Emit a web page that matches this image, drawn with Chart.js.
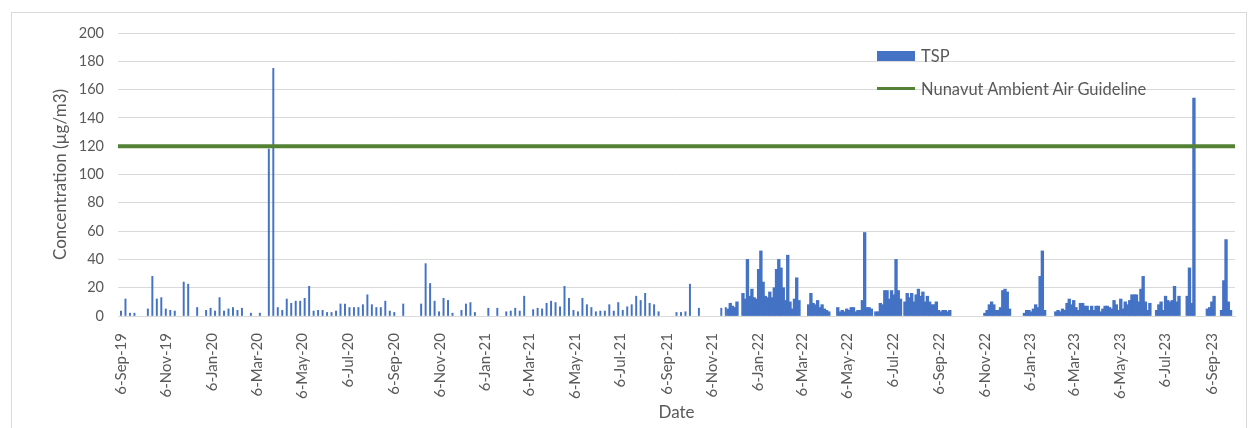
<!DOCTYPE html>
<html>
<head>
<meta charset="utf-8">
<title>TSP concentration</title>
<script src="https://cdn.jsdelivr.net/npm/chart.js@4.4.0/dist/chart.umd.min.js"></script>
<style>
  html, body { margin: 0; padding: 0; background: #fff; }
  body { width: 1248px; height: 428px; overflow: hidden; position: relative; font-family: Lato, sans-serif; }
  .frame { position: absolute; left: 11px; top: 12px; width: 1236px; height: 440px; border: 1px solid #d9d9d9; box-sizing: border-box; }
  #chart-wrap { position: absolute; left: 0; top: 0; width: 1248px; height: 428px; }
  #legend { position: absolute; left: 877px; top: 44px; color: #595959; font-size: 16.5px; }
  .legend-item { display: flex; align-items: center; height: 23px; margin-bottom: 10px; }
  .legend-swatch { width: 38px; margin-right: 6px; }
</style>
</head>
<body>
<div class="frame"></div>
<div id="chart-wrap"><canvas id="tspChart"></canvas></div>
<div id="legend"></div>
<script>
// x values are days since the first sample, 6-Sep-19
const tickLabels = ['6-Sep-19', '6-Nov-19', '6-Jan-20', '6-Mar-20', '6-May-20', '6-Jul-20', '6-Sep-20',
    '6-Nov-20', '6-Jan-21', '6-Mar-21', '6-May-21', '6-Jul-21', '6-Sep-21', '6-Nov-21', '6-Jan-22',
    '6-Mar-22', '6-May-22', '6-Jul-22', '6-Sep-22', '6-Nov-22', '6-Jan-23', '6-Mar-23', '6-May-23',
    '6-Jul-23', '6-Sep-23'];
const tickDays = [0, 61, 122, 182, 243, 304, 366, 427, 488, 547, 608, 669, 731, 792, 853, 912, 973,
    1034, 1096, 1157, 1218, 1277, 1338, 1399, 1461];

// 1-in-6 day samples (Sep 2019 - Nov 2021)
const sampleDays = [0, 6, 12, 18, 36, 42, 48, 54, 60, 66, 72, 84, 90, 102, 114, 120, 126, 132, 138, 144,
    150, 156, 162, 174, 186, 198, 204, 210, 216, 222, 228, 234, 240, 246, 252, 258, 264, 270, 276, 282,
    288, 294, 300, 306, 312, 318, 324, 330, 336, 342, 348, 354, 360, 366, 378, 402, 408, 414, 420, 426,
    432, 438, 444, 456, 462, 468, 474, 492, 504, 516, 522, 528, 534, 540, 552, 558, 564, 570, 576, 582,
    588, 594, 600, 606, 612, 618, 624, 630, 636, 642, 648, 654, 660, 666, 672, 678, 684, 690, 696, 702,
    708, 714, 720, 744, 750, 756, 762, 774, 804, 810];
const sampleTsp = [3.5, 12, 2, 2, 5, 28, 12, 13, 5, 4, 3.5, 24, 22.5, 6, 4, 5.5, 3.5, 13, 3.5, 5,
    6, 4, 5.5, 2, 2, 118, 175, 6, 4, 12, 9, 10.5, 10.5, 12.5, 21, 3.5, 4, 4, 2.5, 2.5,
    3.5, 8.5, 8.5, 6, 6, 6, 8, 15, 8, 6, 6, 10.5, 3.5, 2.5, 8.5, 8.5, 37, 23, 10.5, 3,
    12.5, 11, 2, 4, 8.5, 9.5, 2.5, 5.5, 5.5, 3, 3.5, 5.5, 3.5, 14, 4.5, 5.5, 5, 9, 10.5, 9.5,
    6.5, 21, 12.5, 4, 3, 12.5, 8, 6, 3, 3.5, 3.5, 8, 3.5, 9.5, 4, 6.5, 8, 14, 11, 16,
    9, 8, 3, 2.5, 2.5, 3, 22.5, 5.5, 5.5, 6];

// continuous monitoring from late Nov 2021 (read every ~3 days)
const monitorDays = [
    813, 816, 819, 822, 825,
    833, 836, 839, 842, 845, 848, 851, 854, 857, 860, 863, 866, 869, 872, 875, 878, 881, 884, 887, 890,
    893, 896, 899, 902, 905, 908,
    921, 924, 927, 930, 933, 936, 939, 942, 945, 948,
    960, 963, 966, 969, 972, 975, 978, 981, 984, 987, 990, 993, 996, 999, 1002, 1005, 1011, 1014, 1017,
    1020, 1023, 1026, 1029, 1032, 1035, 1038, 1041, 1044,
    1050, 1053, 1056, 1059, 1062, 1065, 1068, 1071, 1074, 1077, 1080, 1083, 1086, 1089, 1092, 1095, 1098,
    1101, 1104, 1107, 1110,
    1157, 1160, 1163, 1166, 1169, 1172, 1175, 1178, 1181, 1184, 1187, 1190,
    1210, 1213, 1216, 1219, 1222, 1225, 1228, 1231, 1234, 1237,
    1252, 1255, 1258, 1261, 1264, 1267, 1270, 1273, 1276, 1279, 1282, 1285, 1288, 1291, 1294, 1297, 1300,
    1303, 1306, 1309, 1312, 1315, 1318, 1321, 1324, 1327, 1330, 1333, 1336, 1339, 1342, 1345, 1348, 1351,
    1354, 1357, 1360, 1363, 1366, 1369, 1372, 1375, 1378,
    1387, 1390, 1393, 1396, 1399, 1402, 1405, 1408, 1411, 1414, 1417,
    1428, 1431, 1434, 1437,
    1455, 1458, 1461, 1464,
    1474, 1477, 1480, 1483, 1486];
const monitorTsp = [
    5, 9, 7, 6, 10,
    16, 12, 40, 14, 19, 13, 12, 33, 46, 24, 14, 13, 17, 13, 20, 33, 40, 34, 20, 11,
    43, 10, 5, 12, 27, 11,
    8, 16, 9, 8, 11, 6, 8, 5, 4, 3,
    6, 3, 4, 3, 5, 4, 6, 6, 3, 4, 4, 11, 59, 6, 6, 5, 3, 3, 9,
    8, 18, 18, 12, 18, 15, 40, 18, 12,
    10, 16, 13, 16, 10, 15, 19, 14, 17, 10, 14, 10, 8, 8, 10, 4, 3,
    4, 4, 3, 4,
    2, 4, 8, 10, 8, 4, 4, 6, 18, 19, 17, 5,
    2, 4, 4, 3, 5, 8, 6, 28, 46, 4,
    3, 4, 3, 5, 4, 9, 12, 8, 11, 6, 4, 9, 9, 7, 7, 4, 7,
    4, 7, 7, 3, 5, 7, 7, 6, 5, 11, 8, 4, 12, 5, 10, 8, 11,
    15, 15, 15, 10, 19, 28, 10, 4, 9,
    4, 8, 10, 4, 14, 11, 10, 11, 21, 10, 14,
    14, 34, 9, 154,
    5, 6, 10, 14,
    4, 25, 54, 10, 4];

const guidelineValue = 120;
const axisStartDay = -4;
const axisEndDay = 1492;

const blue = '#4472c4';
const green = '#548235';
const textGrey = '#595959';

function toPoints(days, values) {
    return days.map((d, i) => ({ x: d, y: values[i] }));
}

function initChart() {
    Chart.defaults.font.family = 'Lato, sans-serif';
    Chart.defaults.color = textGrey;

    const ctx = document.getElementById('tspChart').getContext('2d');
    const chart = new Chart(ctx, {
        type: 'bar',
        data: {
            datasets: [
                {
                    type: 'line',
                    label: 'Nunavut Ambient Air Guideline',
                    data: [{ x: axisStartDay, y: guidelineValue }, { x: axisEndDay, y: guidelineValue }],
                    borderColor: green,
                    backgroundColor: green,
                    borderWidth: 4,
                    pointRadius: 0,
                    order: 0,
                    legendIndex: 1
                },
                {
                    label: 'TSP',
                    data: toPoints(sampleDays, sampleTsp),
                    backgroundColor: blue,
                    barThickness: 1.3,
                    stack: 'tsp',
                    order: 1,
                    legendIndex: 0
                },
                {
                    label: 'TSP',
                    data: toPoints(monitorDays, monitorTsp),
                    backgroundColor: blue,
                    barThickness: 2.7,
                    stack: 'tsp',
                    order: 1
                }
            ]
        },
        options: {
            responsive: true,
            maintainAspectRatio: false,
            animation: false,
            layout: { padding: { top: 33, right: 13, left: 0, bottom: 0 } },
            plugins: {
                legend: { display: false },
                tooltip: { enabled: false }
            },
            scales: {
                x: {
                    type: 'linear',
                    min: axisStartDay,
                    max: axisEndDay,
                    offset: false,
                    grid: { display: false, offset: false },
                    border: { display: true, color: '#d9d9d9' },
                    afterBuildTicks: axis => { axis.ticks = tickDays.map(v => ({ value: v })); },
                    afterFit: axis => { axis.height = 112; },
                    ticks: {
                        autoSkip: false,
                        minRotation: 90,
                        maxRotation: 90,
                        padding: 9,
                        font: { size: 15 },
                        callback: (value, index) => tickLabels[index]
                    },
                    title: {
                        display: true,
                        text: 'Date',
                        font: { size: 17 },
                        padding: { top: 0, bottom: 5 }
                    }
                },
                y: {
                    min: 0,
                    max: 200,
                    stacked: false,
                    grid: { color: '#d9d9d9', drawTicks: false },
                    border: { display: false },
                    afterFit: axis => { axis.width = 118; },
                    ticks: { stepSize: 20, padding: 14, font: { size: 14.5 } },
                    title: {
                        display: true,
                        text: 'Concentration (µg/m3)',
                        font: { size: 17 },
                        padding: { top: 50, bottom: 0 }
                    }
                }
            }
        }
    });

    buildLegend(chart);
}

function buildLegend(chart) {
    const box = document.getElementById('legend');
    const items = chart.data.datasets
        .filter(ds => ds.legendIndex !== undefined)
        .sort((a, b) => a.legendIndex - b.legendIndex);

    items.forEach(ds => {
        const row = document.createElement('div');
        row.className = 'legend-item';
        const swatch = document.createElement('span');
        swatch.className = 'legend-swatch';
        swatch.style.background = ds.backgroundColor;
        swatch.style.height = ds.type === 'line' ? '3px' : '10px';
        const text = document.createElement('span');
        text.textContent = ds.label;
        row.appendChild(swatch);
        row.appendChild(text);
        box.appendChild(row);
    });
}

document.addEventListener('DOMContentLoaded', initChart);
</script>
</body>
</html>
